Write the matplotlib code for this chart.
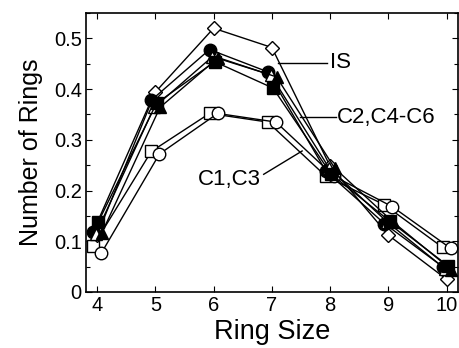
import numpy as np
import matplotlib
matplotlib.use("Agg")
import matplotlib.pyplot as plt
from matplotlib.ticker import MultipleLocator

plt.rcParams['font.family'] = ['Liberation Sans', 'DejaVu Sans']

ring_size = np.array([4, 5, 6, 7, 8, 9, 10])

# fraction of rings per ring size
c1 = [0.090, 0.277, 0.352, 0.335, 0.228, 0.172, 0.088]   # open square
c3 = [0.076, 0.272, 0.352, 0.335, 0.228, 0.168, 0.086]   # open circle
c2 = [0.118, 0.378, 0.478, 0.434, 0.238, 0.135, 0.050]   # filled circle
c4 = [0.115, 0.364, 0.464, 0.428, 0.245, 0.138, 0.045]   # open triangle
c5 = [0.138, 0.372, 0.454, 0.402, 0.232, 0.140, 0.052]   # filled square
c6 = [0.116, 0.364, 0.462, 0.424, 0.244, 0.138, 0.044]   # filled triangle
is_ = [0.112, 0.394, 0.520, 0.482, 0.248, 0.112, 0.025]  # open diamond

fig = plt.figure(figsize=(4.59, 3.48), dpi=100)
ax = fig.add_axes([0.1874, 0.161, 0.811, 0.8016])

# (data, marker, face, x offset so the symbols don't fully overlap)
series = [
    (c1, 's', 'white', -0.07),
    (c3, 'o', 'white', 0.07),
    (is_, 'D', 'white', 0.0),
    (c2, 'o', 'black', -0.07),
    (c4, '^', 'white', -0.02),
    (c5, 's', 'black', 0.02),
    (c6, '^', 'black', 0.08),
]
for vals, mk, fc, dx in series:
    ms = 7.5 if mk == 'D' else 9
    ax.plot(ring_size + dx, vals, color='black', lw=1.0, marker=mk, ms=ms,
            mfc=fc, mec='black', mew=1.0)

ax.set_xlim(3.81, 10.2)
ax.set_ylim(0, 0.55)
ax.xaxis.set_major_locator(MultipleLocator(1))
ax.yaxis.set_minor_locator(MultipleLocator(0.05))
ax.set_yticks([0, 0.1, 0.2, 0.3, 0.4, 0.5])
ax.set_yticklabels(['0', '0.1', '0.2', '0.3', '0.4', '0.5'])
ax.tick_params(which='both', direction='in', top=True, right=True,
               labelsize=14.5, width=0.8)
ax.tick_params(which='major', length=4, pad=3)
ax.tick_params(which='minor', length=3)
for s in ax.spines.values():
    s.set_linewidth(1.2)

ax.set_xlabel('Ring Size', fontsize=19.5, labelpad=3)
ax.set_ylabel('Number of Rings', fontsize=18, labelpad=8)

# curve labels
ax.plot([7.1, 7.95], [0.452, 0.452], color='black', lw=1.0)
ax.text(8.0, 0.452, 'IS', fontsize=16, va='center', ha='left')
ax.plot([7.48, 8.1], [0.344, 0.344], color='black', lw=1.0)
ax.text(8.12, 0.344, 'C2,C4-C6', fontsize=16, va='center', ha='left')
ax.plot([6.86, 7.52], [0.232, 0.278], color='black', lw=1.0)
ax.text(6.82, 0.222, 'C1,C3', fontsize=16, va='center', ha='right')

fig.savefig('out.png', dpi=100)
